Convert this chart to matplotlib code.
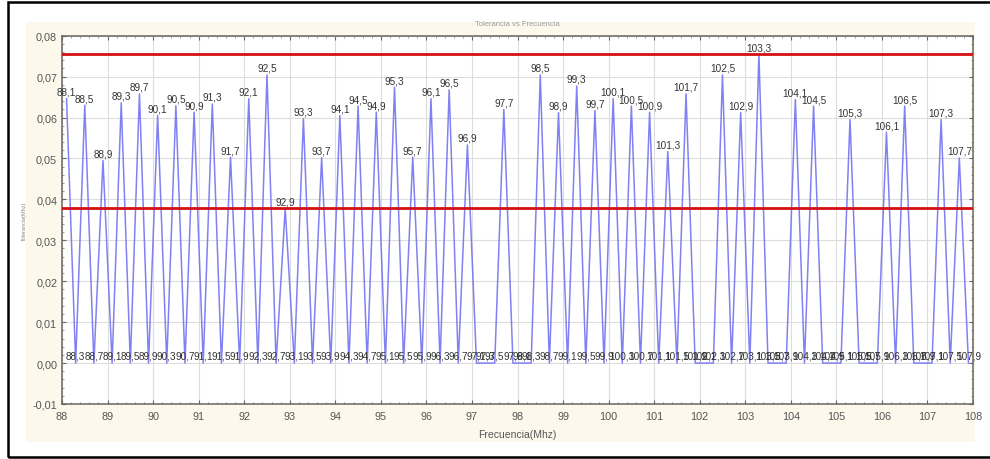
import matplotlib.pyplot as plt
from matplotlib.patches import Rectangle

# Frequencies (MHz) measured every 0.2 MHz and their tolerance
frecuencias = [
    88.1, 88.3, 88.5, 88.7, 88.9, 89.1, 89.3, 89.5, 89.7, 89.9,
    90.1, 90.3, 90.5, 90.7, 90.9, 91.1, 91.3, 91.5, 91.7, 91.9,
    92.1, 92.3, 92.5, 92.7, 92.9, 93.1, 93.3, 93.5, 93.7, 93.9,
    94.1, 94.3, 94.5, 94.7, 94.9, 95.1, 95.3, 95.5, 95.7, 95.9,
    96.1, 96.3, 96.5, 96.7, 96.9, 97.1, 97.3, 97.5, 97.7, 97.9,
    98.1, 98.3, 98.5, 98.7, 98.9, 99.1, 99.3, 99.5, 99.7, 99.9,
    100.1, 100.3, 100.5, 100.7, 100.9, 101.1, 101.3, 101.5, 101.7, 101.9,
    102.1, 102.3, 102.5, 102.7, 102.9, 103.1, 103.3, 103.5, 103.7, 103.9,
    104.1, 104.3, 104.5, 104.7, 104.9, 105.1, 105.3, 105.5, 105.7, 105.9,
    106.1, 106.3, 106.5, 106.7, 106.9, 107.1, 107.3, 107.5, 107.7, 107.9,
]
tolerancia = [
    0.0646, 0, 0.0630, 0, 0.0495, 0, 0.0636, 0, 0.0658, 0,
    0.0605, 0, 0.0629, 0, 0.0613, 0, 0.0633, 0, 0.0503, 0,
    0.0646, 0, 0.0704, 0, 0.0378, 0, 0.0597, 0, 0.0502, 0,
    0.0605, 0, 0.0628, 0, 0.0613, 0, 0.0674, 0, 0.0503, 0,
    0.0646, 0, 0.0668, 0, 0.0533, 0, 0, 0, 0.0620, 0,
    0, 0, 0.0704, 0, 0.0612, 0, 0.0677, 0, 0.0617, 0,
    0.0646, 0, 0.0628, 0, 0.0613, 0, 0.0517, 0, 0.0658, 0,
    0, 0, 0.0704, 0, 0.0612, 0, 0.0755, 0, 0, 0,
    0.0644, 0, 0.0628, 0, 0, 0, 0.0595, 0, 0, 0,
    0.0564, 0, 0.0628, 0, 0, 0, 0.0595, 0, 0.0501, 0,
]

x_ticks = list(range(88, 109))
y_ticks = [-0.01, 0.00, 0.01, 0.02, 0.03, 0.04, 0.05, 0.06, 0.07, 0.08]

plt.rcParams["font.family"] = ["Liberation Sans", "DejaVu Sans"]

fig = plt.figure(figsize=(9.9, 4.6), dpi=100)
fig.patch.set_facecolor("white")

# cream panel behind the axes and black outer frame
fig.patches.append(Rectangle((26 / 990, 1 - 443 / 460), 949 / 990, 420 / 460,
                             transform=fig.transFigure, facecolor="#fcf9ec",
                             edgecolor="none", zorder=-5))
fig.patches.append(Rectangle((8 / 990, 1 - 458 / 460), 1.0, 455 / 460,
                             transform=fig.transFigure, facecolor="none",
                             edgecolor="black", linewidth=1.8, zorder=5))

ax = fig.add_axes([62 / 990, 1 - 405 / 460, 911 / 990, 368.3 / 460])
ax.set_facecolor("white")

ax.plot(frecuencias, tolerancia, color="#7373f3", linewidth=1.1, alpha=0.9, zorder=3)

# upper and lower limits
picos = [t for t in tolerancia if t > 0]
ax.axhline(max(picos), color="#d41010", linewidth=2, zorder=4)
ax.axhline(min(picos), color="#d41010", linewidth=2, zorder=4)

for f, t in zip(frecuencias, tolerancia):
    ax.annotate(f"{f:.1f}".replace(".", ","), (f, t), xytext=(0, 1.5),
                textcoords="offset points", ha="center", va="bottom",
                fontsize=7.2, color="#333333", zorder=5)

ax.set_xlim(88, 108)
ax.set_ylim(-0.01, 0.08)
ax.set_xticks(x_ticks)
ax.set_xticklabels([str(v) for v in x_ticks])
ax.set_yticks(y_ticks)
ax.set_yticklabels([f"{v:.2f}".replace(".", ",").replace("-0,00", "0,00") for v in y_ticks])
ax.tick_params(axis="both", labelsize=7.8, labelcolor="#555555", color="#666666",
               direction="in", length=3, top=True, right=True)
ax.tick_params(axis="x", pad=5)
ax.minorticks_on()
ax.tick_params(which="minor", direction="in", length=1.5, color="#888888",
               top=True, right=True)
ax.grid(True, which="major", color="#dddddd", linewidth=0.8)
for s in ax.spines.values():
    s.set_color("#666666")
    s.set_linewidth(1.1)

ax.set_xlabel("Frecuencia(Mhz)", fontsize=7.5, color="#555555", labelpad=6)
ax.set_ylabel("Tolerancia(Mhz)", fontsize=4, color="#888888", labelpad=4)
ax.set_title("Tolerancia vs Frecuencia", fontsize=5.5, color="#999999", pad=8)

plt.savefig("out.png", dpi=100)
